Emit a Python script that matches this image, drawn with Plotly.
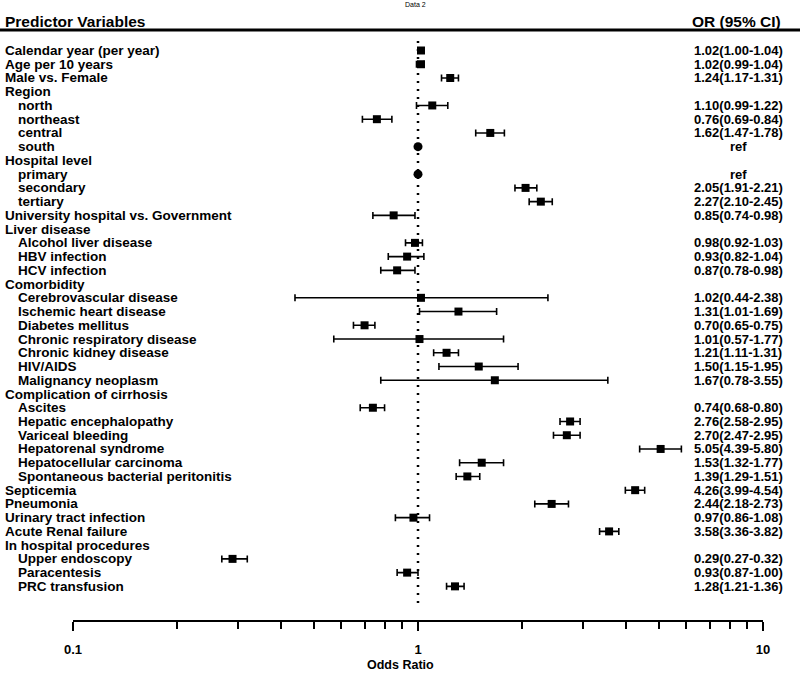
import plotly.graph_objects as go

labels = [
    "Calendar year (per year)", "Age per 10 years", "Male vs. Female", "Region",
    "north", "northeast", "central", "south", "Hospital level", "primary",
    "secondary", "tertiary", "University hospital vs. Government", "Liver disease",
    "Alcohol liver disease", "HBV infection", "HCV infection", "Comorbidity",
    "Cerebrovascular disease", "Ischemic heart disease", "Diabetes mellitus",
    "Chronic respiratory disease", "Chronic kidney disease", "HIV/AIDS",
    "Malignancy neoplasm", "Complication of cirrhosis", "Ascites",
    "Hepatic encephalopathy", "Variceal bleeding", "Hepatorenal syndrome",
    "Hepatocellular carcinoma", "Spontaneous bacterial peritonitis", "Septicemia",
    "Pneumonia", "Urinary tract infection", "Acute Renal failure",
    "In hospital procedures", "Upper endoscopy", "Paracentesis", "PRC transfusion",
]
levels = [0, 0, 0, 0, 1, 1, 1, 1, 0, 1, 1, 1, 0, 0, 1, 1, 1, 0, 1, 1, 1, 1, 1, 1, 1,
          0, 1, 1, 1, 1, 1, 1, 0, 0, 0, 0, 0, 1, 1, 1]
odds = [1.02, 1.02, 1.24, None, 1.10, 0.76, 1.62, "ref", None, "ref", 2.05, 2.27, 0.85,
        None, 0.98, 0.93, 0.87, None, 1.02, 1.31, 0.70, 1.01, 1.21, 1.50, 1.67, None,
        0.74, 2.76, 2.70, 5.05, 1.53, 1.39, 4.26, 2.44, 0.97, 3.58, None, 0.29, 0.93, 1.28]
lower = [1.00, 0.99, 1.17, None, 0.99, 0.69, 1.47, None, None, None, 1.91, 2.10, 0.74,
         None, 0.92, 0.82, 0.78, None, 0.44, 1.01, 0.65, 0.57, 1.11, 1.15, 0.78, None,
         0.68, 2.58, 2.47, 4.39, 1.32, 1.29, 3.99, 2.18, 0.86, 3.36, None, 0.27, 0.87, 1.21]
upper = [1.04, 1.04, 1.31, None, 1.22, 0.84, 1.78, None, None, None, 2.21, 2.45, 0.98,
         None, 1.03, 1.04, 0.98, None, 2.38, 1.69, 0.75, 1.77, 1.31, 1.95, 3.55, None,
         0.80, 2.95, 2.95, 5.80, 1.77, 1.51, 4.54, 2.73, 1.08, 3.82, None, 0.32, 1.00, 1.36]
x_ticks = [0.1, 1, 10]
x_tick_labels = ["0.1", "1", "10"]
x_minor = [0.2, 0.3, 0.4, 0.5, 0.6, 0.7, 0.8, 0.9, 2, 3, 4, 5, 6, 7, 8, 9]

W, H = 800, 675
L, R, T, B = 73, 37, 35, 55
pw, ph = W - L - R, H - T - B
ROW0, STEP = 50.5, 13.74


def prow(px):
    return (px - ROW0) / STEP


def xpaper(px):
    return (px - L) / pw


def ypaper(px):
    return (H - B - px) / ph


FONT = "Liberation Sans, Arial, sans-serif"

ci_text = []
sq_x, sq_y, sq_plus, sq_minus = [], [], [], []
ref_x, ref_y = [], []
for i, o in enumerate(odds):
    if o is None:
        ci_text.append("")
    elif o == "ref":
        ci_text.append("ref")
        ref_x.append(1)
        ref_y.append(i)
    else:
        ci_text.append(f"{o:.2f}({lower[i]:.2f}-{upper[i]:.2f})")
        sq_x.append(o)
        sq_y.append(i)
        sq_plus.append(upper[i] - o)
        sq_minus.append(o - lower[i])

fig = go.Figure()
fig.add_trace(go.Scatter(
    x=sq_x, y=sq_y, mode="markers",
    marker=dict(symbol="square", size=8, color="black"),
    error_x=dict(type="data", symmetric=False, array=sq_plus, arrayminus=sq_minus,
                 color="black", thickness=1.6, width=3.5),
    showlegend=False, hoverinfo="skip",
))
fig.add_trace(go.Scatter(
    x=ref_x, y=ref_y, mode="markers",
    marker=dict(symbol="circle", size=9, color="black"),
    showlegend=False, hoverinfo="skip",
))

shapes = [
    dict(type="line", xref="x", yref="y", x0=1, x1=1, y0=prow(41), y1=prow(607),
         line=dict(color="black", width=2.5, dash="2px,6px")),
    dict(type="line", xref="paper", yref="paper", x0=xpaper(0), x1=xpaper(800),
         y0=ypaper(30), y1=ypaper(30), line=dict(color="black", width=3)),
]

annotations = []
for i, lab in enumerate(labels):
    annotations.append(dict(
        text=lab, xref="paper", yref="y", x=xpaper(3 if levels[i] == 0 else 16), y=i,
        xanchor="left", yanchor="middle", showarrow=False,
        font=dict(family=FONT, size=13.5, color="black", weight="bold"),
    ))
    if ci_text[i]:
        annotations.append(dict(
            text=ci_text[i], xref="paper", yref="y", x=xpaper(738), y=i,
            xanchor="center", yanchor="middle", showarrow=False,
            font=dict(family=FONT, size=13, color="black", weight="bold"),
        ))

annotations += [
    dict(text="Predictor Variables", xref="paper", yref="paper", x=xpaper(3), y=ypaper(21),
         xanchor="left", yanchor="middle", showarrow=False,
         font=dict(family=FONT, size=15.5, color="black", weight="bold")),
    dict(text="OR (95% CI)", xref="paper", yref="paper", x=xpaper(783), y=ypaper(21),
         xanchor="right", yanchor="middle", showarrow=False,
         font=dict(family=FONT, size=15.5, color="black", weight="bold")),
    dict(text="Data 2", xref="paper", yref="paper", x=xpaper(415), y=ypaper(5),
         xanchor="center", yanchor="middle", showarrow=False,
         font=dict(family=FONT, size=7, color="black")),
    dict(text="Odds Ratio", xref="paper", yref="paper", x=xpaper(400), y=ypaper(665),
         xanchor="center", yanchor="middle", showarrow=False,
         font=dict(family=FONT, size=12.5, color="black", weight="bold")),
]

fig.update_layout(
    width=W, height=H, margin=dict(l=L, r=R, t=T, b=B, autoexpand=False),
    paper_bgcolor="white", plot_bgcolor="white",
    shapes=shapes, annotations=annotations,
    xaxis=dict(
        type="log", range=[-1, 1], tickmode="array", tickvals=x_ticks,
        ticktext=x_tick_labels, ticks="outside", ticklen=9, tickwidth=2,
        tickcolor="black", showline=True, linewidth=2, linecolor="black",
        showgrid=False, zeroline=False, ticklabelstandoff=7,
        tickfont=dict(family=FONT, size=13, color="black", weight="bold"),
        minor=dict(tickmode="array", tickvals=x_minor, ticks="outside", ticklen=7,
                   tickwidth=2, tickcolor="black", showgrid=False),
    ),
    yaxis=dict(visible=False, range=[prow(H - B), prow(T)]),
)

fig.write_html(
    "out.html",
    config={"displayModeBar": False},
    post_script="document.body.style.margin='0';document.body.style.padding='0';"
                "document.body.style.overflow='hidden';",
)
